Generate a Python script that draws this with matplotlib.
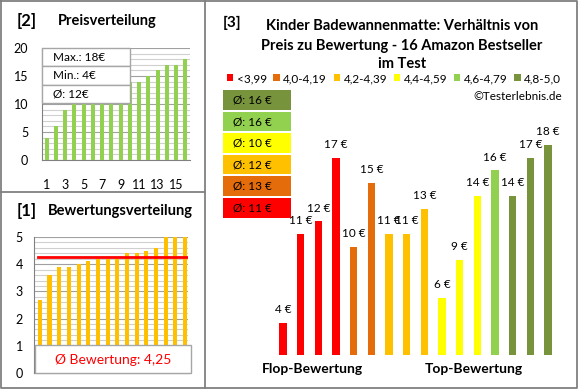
import matplotlib
matplotlib.use("Agg")
import matplotlib.pyplot as plt
from matplotlib.patches import Rectangle, Patch
from matplotlib.lines import Line2D
from matplotlib.ticker import MultipleLocator

plt.rcParams["font.family"] = ["Lato", "DejaVu Sans"]

# --- Daten ---------------------------------------------------------------
# [3] Preise der 16 Produkte, sortiert nach Bewertung (Flop -> Top)
prices = [4, 11, 12, 17, 10, 15, 11, 11, 13, 6, 9, 14, 16, 14, 17, 18]
price_group = [0, 0, 0, 0, 1, 1, 2, 2, 2, 3, 3, 3, 4, 5, 5, 5]

groups = ["<3,99", "4,0-4,19", "4,2-4,39", "4,4-4,59", "4,6-4,79", "4,8-5,0"]
group_colors = ["#FF0000", "#E46C0A", "#FFC000", "#FFFF00", "#92D050", "#77933C"]

# [2] Preisverteilung (sortiert)
price_sorted = [4, 6, 9, 10, 11, 11, 11, 12, 13, 14, 14, 15, 16, 17, 17, 18]

# [1] Bewertungsverteilung (sortiert)
ratings = [2.7, 3.6, 3.9, 3.9, 4.0, 4.1, 4.2, 4.2, 4.2, 4.4, 4.4, 4.5, 4.6, 5.0, 5.0, 5.0]
rating_avg = 4.25

W, H = 580, 390
fig = plt.figure(figsize=(W / 100, H / 100), dpi=100)
fig.patch.set_facecolor("white")


def add_ax(x0, y0, x1, y1):
    # Pixel-Koordinaten (oben links = 0,0)
    return fig.add_axes([x0 / W, 1 - y1 / H, (x1 - x0) / W, (y1 - y0) / H])


def box(x0, y0, x1, y1, fc="white", ec="#A6A6A6", lw=1.0, z=5):
    fig.patches.append(Rectangle((x0 / W, 1 - y1 / H), (x1 - x0) / W, (y1 - y0) / H,
                                 transform=fig.transFigure, facecolor=fc,
                                 edgecolor=ec, linewidth=lw, zorder=z))


def ftext(x, y, s, **kw):
    fig.text(x / W, 1 - y / H, s, **kw)


def fline(xs, ys, color="#808080", lw=1.3):
    fig.lines.append(Line2D([x / W for x in xs], [1 - y / H for y in ys],
                            transform=fig.transFigure, color=color, linewidth=lw, zorder=10))


GRID_MAJOR = "#A0A0A0"
GRID_MINOR = "#D0D0D0"
idx = list(range(1, 17))

# --- [2] Preisverteilung -------------------------------------------------
ax2 = add_ax(42, 48, 190, 160)
ax2.bar(idx, price_sorted, width=0.43, color="#92D050", zorder=3)
ax2.set_xlim(0.5, 16.5)
ax2.set_ylim(0, 20)
ax2.yaxis.set_major_locator(MultipleLocator(5))
ax2.yaxis.set_minor_locator(MultipleLocator(1))
ax2.set_xticks(range(1, 17, 2))
ax2.grid(axis="y", which="major", color=GRID_MAJOR, lw=0.8)
ax2.grid(axis="y", which="minor", color=GRID_MINOR, lw=0.8)
ax2.set_axisbelow(True)
ax2.tick_params(axis="both", which="both", length=0, labelsize=9)
ax2.tick_params(axis="y", pad=10)
ax2.tick_params(axis="x", pad=14)
for s in ["top", "right"]:
    ax2.spines[s].set_visible(False)
for s in ["left", "bottom"]:
    ax2.spines[s].set_color("#808080")

ftext(17, 21, "[2]", fontsize=12, fontweight="bold", va="center")
ftext(58, 21, "Preisverteilung", fontsize=10.5, fontweight="bold", va="center")

stats = [f"Max.: {max(price_sorted)}€", f"Min.: {min(price_sorted)}€",
         f"Ø: {round(sum(price_sorted) / len(price_sorted))}€"]
row_h = (103 - 48) / 3
for i, s in enumerate(stats):
    y0 = 48 + i * row_h
    box(42, y0, 130, y0 + row_h)
    ftext(53, y0 + row_h / 2, s, fontsize=8.5, va="center", zorder=6)

# --- [1] Bewertungsverteilung --------------------------------------------
ax1 = add_ax(34, 237, 188, 373)
ax1.bar(idx, ratings, width=0.42, color="#FFC000", zorder=3)
ax1.plot([0.8, 16.2], [rating_avg, rating_avg], color="#FF0000", lw=2.0, zorder=4)
ax1.set_xlim(0.4, 16.3)
ax1.set_ylim(0, 5)
ax1.yaxis.set_major_locator(MultipleLocator(1))
ax1.yaxis.set_minor_locator(MultipleLocator(0.2))
ax1.set_xticks([])
ax1.grid(axis="y", which="major", color=GRID_MAJOR, lw=0.8)
ax1.grid(axis="y", which="minor", color=GRID_MINOR, lw=0.8)
ax1.set_axisbelow(True)
ax1.tick_params(axis="both", which="both", length=0, labelsize=9)
ax1.tick_params(axis="y", pad=8)
for s in ["top", "right"]:
    ax1.spines[s].set_visible(False)
for s in ["left", "bottom"]:
    ax1.spines[s].set_color("#808080")

ftext(17, 211, "[1]", fontsize=12, fontweight="bold", va="center")
ftext(48, 211, "Bewertungsverteilung", fontsize=10.5, fontweight="bold", va="center")

box(35, 345, 191, 373)
ftext(113, 360, f"Ø Bewertung: {rating_avg:.2f}".replace(".", ","), fontsize=10,
      color="#FF0000", ha="center", va="center", zorder=6)

# --- [3] Preis zu Bewertung ----------------------------------------------
ax3 = add_ax(265.3, 100, 565.7, 355)
xs = list(range(1, 17))
ax3.bar(xs, [p - 1.5 for p in prices], bottom=1.5, width=0.4,
        color=[group_colors[g] for g in price_group])
for x, p in zip(xs, prices):
    ax3.annotate(f"{p} €", (x, p), xytext=(0, 9.5), textcoords="offset points",
                 ha="center", va="center", fontsize=8.5, annotation_clip=False)
ax3.set_xlim(0, 17)
ax3.set_ylim(1.5, 21.53)
ax3.axis("off")

ftext(223, 23, "[3]", fontsize=11, fontweight="bold", va="center")
ftext(402, 26, "Kinder Badewannenmatte: Verhältnis von", fontsize=10.5,
      fontweight="bold", ha="center", va="center")
ftext(402, 46, "Preis zu Bewertung - 16 Amazon Bestseller", fontsize=10.5,
      fontweight="bold", ha="center", va="center")
ftext(402, 64, "im Test", fontsize=10.5, fontweight="bold", ha="center", va="center")

handles = [Patch(facecolor=c, edgecolor="none") for c in group_colors]
fig.legend(handles, groups, loc="center", bbox_to_anchor=(394 / W, 1 - 78.5 / H),
           ncol=6, frameon=False, fontsize=8.5, handlelength=0.55, handleheight=0.55,
           handletextpad=0.3, columnspacing=0.55, borderpad=0, borderaxespad=0)

ftext(562, 97, "©Testerlebnis.de", fontsize=8.5, ha="right", va="center")

# Durchschnittspreise je Bewertungsgruppe (oben: beste Gruppe)
for i, g in enumerate(reversed(range(len(groups)))):
    grp = [p for p, k in zip(prices, price_group) if k == g]
    avg = round(sum(grp) / len(grp) + 1e-9)
    y0 = 90 + i * 21.6
    box(223, y0, 291, y0 + 19.5, fc=group_colors[g], ec="none")
    ftext(233, y0 + 10, f"Ø: {avg} €", fontsize=8.5, va="center", zorder=6)

ftext(312, 369, "Flop-Bewertung", fontsize=10, fontweight="bold", ha="center", va="center")
ftext(474, 369, "Top-Bewertung", fontsize=10, fontweight="bold", ha="center", va="center")

# --- Rahmen --------------------------------------------------------------
fline([1, 577, 577, 1, 1], [1, 1, 388, 388, 1])
fline([205, 205], [1, 388])
fline([1, 205], [192, 192])

fig.savefig("out.png", dpi=100, facecolor="white")
